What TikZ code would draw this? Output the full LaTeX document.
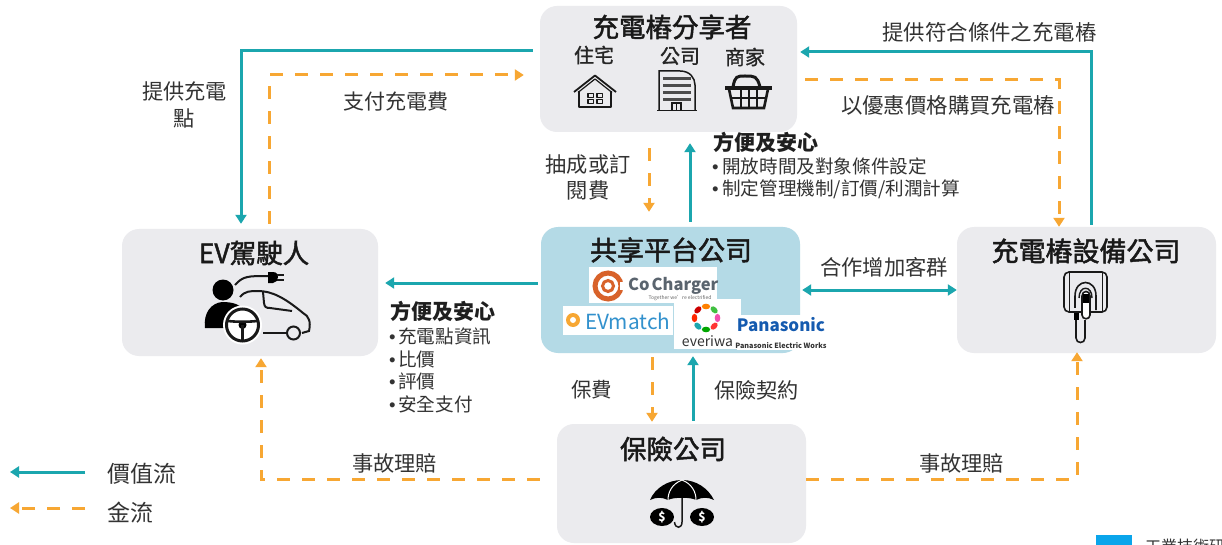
\documentclass[tikz,border=0pt]{standalone}
\usepackage{fontspec}
\setmainfont{Noto Sans CJK TC}
\newfontfamily\med[FakeBold=1.8]{Noto Sans CJK TC}
\newfontfamily\medb[FakeBold=1.2]{Noto Sans CJK TC}
\newfontfamily\lat{Liberation Sans}
\usetikzlibrary{arrows.meta,calc}
\definecolor{teal1}{HTML}{1BA6AE}
\definecolor{orange1}{HTML}{F7A733}
\definecolor{boxgray}{HTML}{EBEBEE}
\definecolor{boxblue}{HTML}{B4DAE6}
\definecolor{txt}{HTML}{333333}
\definecolor{markblue}{HTML}{0AA5EB}
\definecolor{ccorange}{HTML}{D8622A}
\definecolor{ccgray}{HTML}{5A646E}
\definecolor{emblue}{HTML}{3291CD}
\definecolor{pablue}{HTML}{145AAF}
\newcommand{\fs}[1]{\fontsize{#1}{#1}\selectfont}
\newcommand{\bu}[1]{\makebox[#1][l]{\lat •}}
\tikzset{
 card/.style={fill=#1,rounded corners=17pt,inner sep=0pt},
 ttl/.style={font=\fs{26.5}\med,text=black!90,inner sep=0pt},
 lbl/.style={font=\fs{21.2},text=txt,inner sep=0pt},
 sublbl/.style={font=\fs{20}\medb,text=black!85,inner sep=0pt},
 bul/.style={font=\fs{18.6},text=txt,inner sep=0pt,anchor=west},
 hd/.style={font=\fs{21}\bfseries,text=black!88,inner sep=0pt,anchor=west},
 value/.style={draw=teal1,line width=3pt,-{Triangle[length=9pt,width=11pt,fill=teal1]}},
 money/.style={draw=orange1,line width=3pt,dash pattern=on 13pt off 12pt,-{Triangle[length=9pt,width=11pt,fill=orange1]}},
 ic/.style={line width=1.5pt,draw=black!90},
}
\begin{document}
\begin{tikzpicture}[x=1pt,y=-1pt]
\useasboundingbox (0,0) rectangle (1222,545);
\fill[white] (0,0) rectangle (1222,545);
% cards
\node[card=boxgray,minimum width=257pt,minimum height=126pt] (sharer) at (668.5,69) {};
\node[card=boxgray,minimum width=256pt,minimum height=127pt] (ev) at (250,292.5) {};
\node[card=boxblue,minimum width=259pt,minimum height=126pt] (plat) at (670.5,290) {};
\node[card=boxgray,minimum width=259pt,minimum height=126pt] (equip) at (1086.5,290) {};
\node[card=boxgray,minimum width=249pt,minimum height=119pt] (ins) at (681.5,483.5) {};
% titles
\node[ttl] (t1) at (672,27) {充電樁分享者};
\node[ttl] (t2) at (254,253) {EV駕駛人};
\node[ttl,font=\fs{27}\med] (t3) at (671,250) {共享平台公司};
\node[ttl,font=\fs{27}\med] (t4) at (1086,251) {充電樁設備公司};
\node[ttl] (t5) at (673,449) {保險公司};
\node[sublbl] (s1) at (594,55) {住宅};
\node[sublbl] (s2) at (680,56) {公司};
\node[sublbl] (s3) at (745,57) {商家};
% connectors
\draw[value] ([xshift=-7pt,yshift=18pt]sharer.west) -| ([xshift=-9pt,yshift=5pt]ev.north);
\draw[money] ([xshift=19pt,yshift=5pt]ev.north) |- ([xshift=-16pt,yshift=-6pt]sharer.west);
\draw[value] ([xshift=4.5pt,yshift=2pt]equip.north) |- ([xshift=3pt,yshift=17pt]sharer.east);
\draw[money] ([xshift=8pt,yshift=-11pt]sharer.east) -| ([xshift=-27.5pt]equip.north);
\draw[money] ([xshift=-19.5pt,yshift=-16pt]sharer.south) -- ([xshift=-21.5pt,yshift=15pt]plat.north);
\draw[value] ([xshift=19.5pt,yshift=5pt]plat.north) -- ([xshift=21.5pt,yshift=-11pt]sharer.south);
\draw[value] ([xshift=-3pt,yshift=7pt]plat.west) -- ([xshift=7pt,yshift=9.5pt]ev.east);
\draw[value,{Triangle[length=9pt,width=11pt,fill=teal1]}-{Triangle[length=9pt,width=11pt,fill=teal1]}] ([xshift=2pt]plat.east) -- (equip.west);
\draw[money] ([xshift=-18.5pt,yshift=-4pt]plat.south) -- ([xshift=-29.5pt,yshift=2pt]ins.north);
\draw[value] ([xshift=11.5pt,yshift=3pt]ins.north) -- ([xshift=22.5pt,yshift=-3pt]plat.south);
\draw[money] ([xshift=-17pt,yshift=4.5pt]ins.west) -| ([xshift=11pt,yshift=-2pt]ev.south);
\draw[money] ([yshift=4.5pt]ins.east) -| ([xshift=-9.5pt,yshift=1pt]equip.south);
% labels
\node[lbl,align=center] (l1) at (184.5,105) {提供充電\\[5pt]點};
\node[lbl,font=\fs{21}] (l2) at (396,102) {支付充電費};
\node[lbl,font=\fs{21.4}] (l3) at (989.5,32) {提供符合條件之充電樁};
\node[lbl,font=\fs{21.4}] (l4) at (948,105) {以優惠價格購買充電樁};
\node[lbl,align=center,font=\fs{21.2}] (l5) at (588,177.5) {抽成或訂\\[5pt]閱費};
\node[lbl,font=\fs{21.3}] (l6) at (884,267) {合作增加客群};
\node[lbl,font=\fs{20.5}] (l7) at (591.5,390) {保費};
\node[lbl] (l8) at (756.5,390) {保險契約};
\node[lbl] (l9) at (394.5,463) {事故理賠};
\node[lbl] (l10) at (961.5,463) {事故理賠};
% bullet lists
\node[hd] (h1) at (713,143) {方便及安心};
\node[bul] (b1) at (712,166) {\bu{10pt}開放時間及對象條件設定};
\node[bul] (b2) at (712,189) {\bu{10pt}制定管理機制/訂價/利潤計算};
\node[hd] (h2) at (390,312) {方便及安心};
\node[bul] (c1) at (389,336) {\bu{9pt}充電點資訊};
\node[bul] (c2) at (389,359) {\bu{9pt}比價};
\node[bul] (c3) at (389,381) {\bu{9pt}評價};
\node[bul] (c4) at (389,404) {\bu{9pt}安全支付};
% legend
\coordinate (la) at (85,472); \coordinate (lb) at (10,472);
\coordinate (lc) at (85,508); \coordinate (ld) at (10,508);
\draw[value] (la) -- (lb);
\draw[money] (lc) -- (ld);
\node[lbl,font=\fs{23}] (k1) at (141.5,474) {價值流};
\node[lbl,font=\fs{23}] (k2) at (130,513) {金流};
% corner mark
\fill[markblue] (1096,535) rectangle (1132,545);
\node[lbl,font=\fs{16},anchor=west] (corner) at (1145,546) {工業技術研};
% house icon
\begin{scope}[ic,line join=round]
\draw[line width=1.8pt] (574,92) -- (595,75.5) -- (616,92);
\draw[line width=1.2pt] (578,92.5) -- (595,79) -- (612,92.5);
\draw (579,91) -- (579,107) -- (611,107) -- (611,91);
\foreach \x/\y in {588/93.5,597/93.5,588/99.5,597/99.5}
  \draw[line width=1.1pt] (\x,\y) rectangle +(5.5,4);
\end{scope}
% building icon
\begin{scope}[ic]
\draw (659,110) -- (659,71) -- (680,71) .. controls (690,71) and (695,78) .. (695,85) -- (695,110);
\draw[line width=1.8pt] (657,110.5) -- (697,110.5);
\foreach \y in {77,84,91,98} \fill[black!70] (663,\y) rectangle (691,\y+3.5);
\draw[line width=1.2pt] (672,110) -- (672,103) -- (681,103) -- (681,110);
\draw[line width=1pt] (676.5,103) -- (676.5,110);
\end{scope}
% basket icon
\begin{scope}[ic,line width=2.4pt]
\draw[line width=3pt] (733,87) .. controls (735,76) and (737,76) .. (745,76) .. controls (755,76) and (757,76) .. (760,87);
\draw[line width=4pt] (725,88.5) -- (772,88.5);
\draw[line width=2.6pt] (729,89) -- (733,108) -- (764,108) -- (768,89);
\draw[line width=2pt] (731,98) -- (766,98);
\foreach \x in {741,749,757} \draw[line width=2pt] (\x,89) -- (\x,108);
\end{scope}
% driver / car icon
\begin{scope}[ic,line width=2pt]
\fill[black] (223,290) circle (10.5);
\fill[black] (205,328) .. controls (203,312) and (212,303) .. (222,302) .. controls (232,302) and (240,304) .. (243,310) -- (232,328) -- cycle;
\draw (235,285) .. controls (243,276) and (248,276) .. (268,276);
\fill[black] (268,272) -- (273,272) .. controls (277,272) and (278,275) .. (278,277) .. controls (278,280) and (276,283) .. (273,283) -- (268,283) -- cycle;
\draw (277,274.5) -- (284,274.5) (277,280) -- (284,280);
\draw (240,297) .. controls (245,291) and (250,291) .. (258,291) .. controls (272,291) and (285,298) .. (303,313) .. controls (309,316) and (311,322) .. (309,331) -- (302,333);
\draw (263,292) -- (264,303) .. controls (264.5,307) and (266,308) .. (270,308) -- (292,311);
\draw (263,333) -- (286,333);
\draw (293.5,333) circle (6.5);
\fill[white] (242.5,325) circle (19.5);
\draw[line width=3pt] (242.5,325) circle (16);
\fill[black] (242.5,325) circle (4);
\draw[line width=2.6pt] (228,321) .. controls (236,322) and (249,322) .. (257,321) (242.5,325) -- (242.5,340);
\end{scope}
% charger icon
\begin{scope}[ic]
\draw[line width=1.6pt,rounded corners=5pt] (1064,272) rectangle (1107,312);
\draw[line width=1pt] (1069,272.5) -- (1069,311.5) (1102,272.5) -- (1102,311.5);
\draw[line width=1.6pt] (1075,296) .. controls (1075,278) and (1096,278) .. (1096,296) -- (1096,310);
\draw[line width=1.6pt] (1075,296) -- (1075,308);
\draw[line width=1.4pt] (1079,298) .. controls (1079,285) and (1092,285) .. (1092,298);
\draw[fill=white,line width=1.6pt] (1082,296) -- (1082,315) .. controls (1082,320) and (1090,320) .. (1090,315) -- (1090,296) .. controls (1090,290) and (1082,290) .. (1082,296) -- cycle;
\fill[black] (1083,294) rectangle (1089,303);
\fill[black] (1074,313) rectangle (1079,320);
\draw[line width=1.6pt] (1076,320) -- (1076,338) .. controls (1076,344) and (1085,344) .. (1085,338) -- (1085,320);
\end{scope}
% umbrella icon
\begin{scope}[ic]
\fill[black] (650,500) .. controls (655,488) and (668,480) .. (682,480) .. controls (696,480) and (708,488) .. (714,500) .. controls (708,497) and (702,497) .. (696,500) .. controls (691,497) and (673,497) .. (668,500) .. controls (662,497) and (656,497) .. (650,500) -- cycle;
\draw[white,line width=1pt] (682,480) .. controls (672,484) and (668,492) .. (668,500) (682,480) .. controls (692,484) and (696,492) .. (696,500);
\draw[line width=1.5pt] (682,498) -- (682,522) .. controls (682,529) and (675,529) .. (674.5,522);
\fill[black] (662,517) ellipse (12 and 9) (702,517) ellipse (12 and 9);
\node[text=white,font=\fs{12}\bfseries,inner sep=0pt] (d1) at (662,517) {\$};
\node[text=white,font=\fs{12}\bfseries,inner sep=0pt] (d2) at (702,517) {\$};
\end{scope}
% logos
\fill[white] (589,267) rectangle (717,303);
\draw[draw=ccorange,line width=5pt] (608,286) circle (13);
\draw[draw=ccorange,line width=3pt] (608,286) circle (5.5);
\fill[white] (620,282) rectangle (628,290);
\node[inner sep=0pt,anchor=west,font=\fs{16.5}\bfseries,text=ccgray] (cc) at (628,286) {Co\kern2pt Charger};
\node[inner sep=0pt,font=\fs{5},text=black!60] (cc2) at (680,298) {Together we're electrified};
\fill[white] (563,306) rectangle (673,335);
\fill[orange1] (573,320) circle (7);
\fill[white] (573,320) circle (3);
\node[inner sep=0pt,anchor=west,font=\fs{20.8},text=emblue] (em) at (585,321) {EVmatch};
\fill[white] (674,299) rectangle (741,349);
\foreach \a/\c in {90/red!70!orange,45/red!80!black,0/orange,-45/green!50!gray,-90/magenta!70,-135/red!80,180/green!65!black,135/teal1}
  \fill[\c,rotate around={\a+90:(706,318)}] (706,318) ++(11.5,0) ellipse (2.8 and 4.2);
\node[inner sep=0pt,font=\fs{14},text=black!80] (ew) at (707.5,341) {everiwa};
\fill[white] (737,315) rectangle (827,350);
\node[inner sep=0pt,font=\fs{17}\bfseries,text=pablue] (pa) at (781,325) {Panasonic};
\node[inner sep=0pt,font=\fs{7.2}\bfseries,text=black!80] (pb) at (781,346) {Panasonic Electric Works};
\end{tikzpicture}
\end{document}
